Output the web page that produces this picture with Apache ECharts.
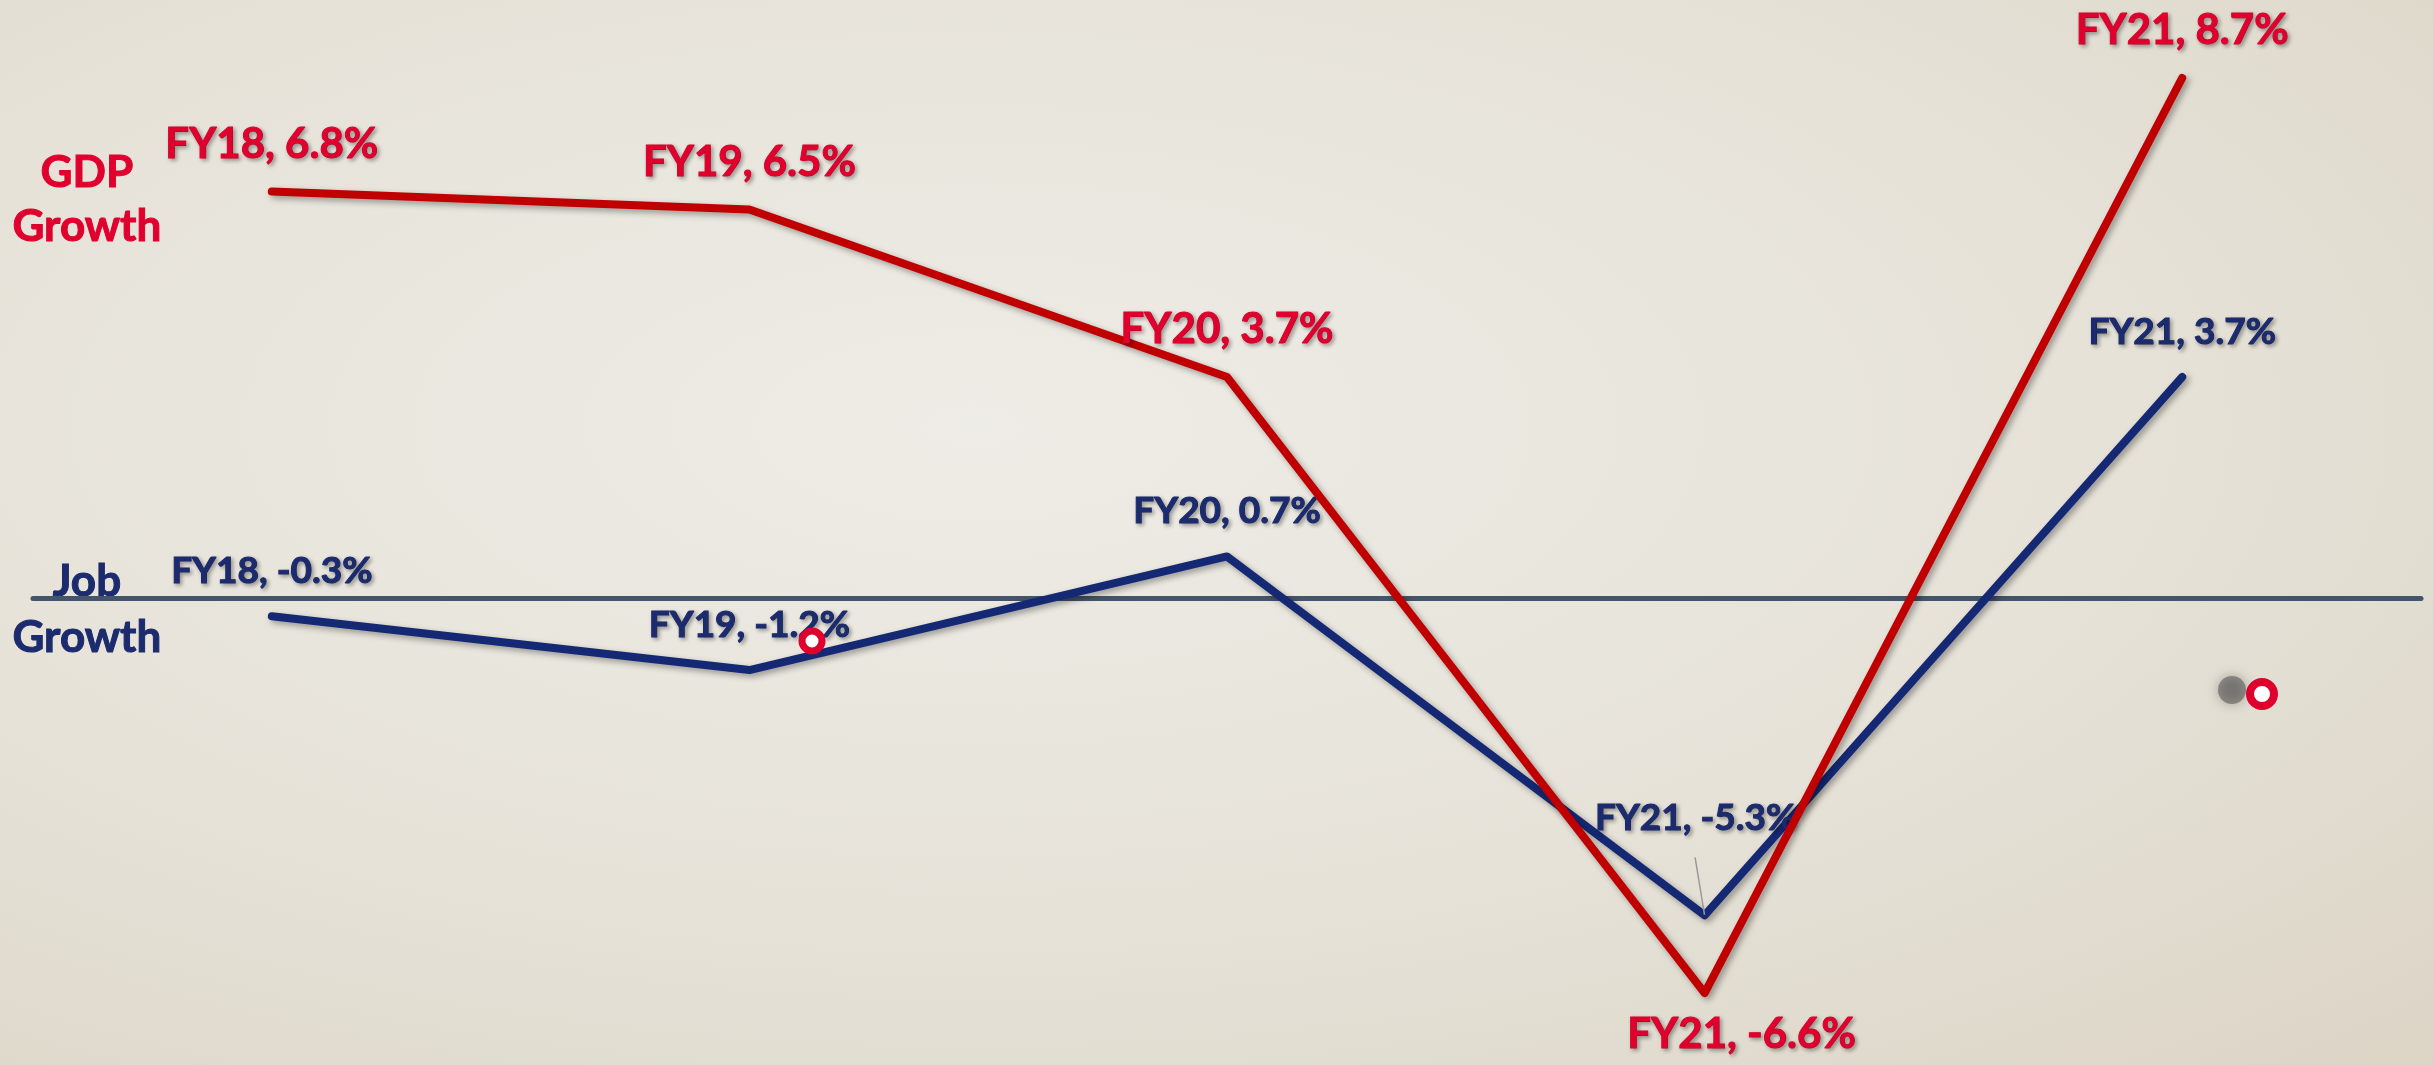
<!DOCTYPE html>
<html>
<head>
<meta charset="utf-8">
<script src="https://cdn.jsdelivr.net/npm/echarts@6/dist/echarts.min.js"></script>
<style>
  html, body { margin: 0; padding: 0; }
  #ch-main {
    width: 2433px; height: 1065px;
    background: radial-gradient(ellipse at 40% 40%, #eeece6 0%, #e6e2d8 55%, #dcd5c6 100%);
  }
</style>
</head>
<body>
<div id="ch-main"></div>
<script>
let categories = ['FY18', 'FY19', 'FY20', 'FY21', 'FY21']
let gdpGrowth = [6.8, 6.5, 3.7, -6.6, 8.7]
let jobGrowth = [-0.3, -1.2, 0.7, -5.3, 3.7]

let red = '#c00000'
let redText = '#e0002d'
let navy = '#142873'
let navyText = '#1b2b6e'

let main = echarts.init(document.getElementById('ch-main'))

let textShadow = { textShadowColor: 'rgba(0,0,0,0.35)', textShadowBlur: 4, textShadowOffsetX: 2, textShadowOffsetY: 2 }

function labelText(p) {
    return p.name + ', ' + p.value + '%'
}

// per-point label tweaks
let gdpData = gdpGrowth.map(function (v, i) {
    let item = { value: v }
    if (i === 3) item.label = { position: 'bottom', distance: 19, offset: [37, 0] }
    return item
})
let jobData = jobGrowth.map(function (v, i) {
    let item = { value: v }
    if (i === 3) item.label = { distance: 77, offset: [-9, 0] }
    if (i === 3) item.labelLine = { show: true, lineStyle: { color: '#9a9a9a', width: 1.5 } }
    return item
})

let lineShadow = { shadowColor: 'rgba(0,0,0,0.35)', shadowBlur: 6, shadowOffsetX: 3, shadowOffsetY: 3 }

let option = {
    animation: false,
    grid: { left: 33, right: 12, top: 60, bottom: 48 },
    xAxis: {
        type: 'category',
        data: categories,
        boundaryGap: true,
        axisLine: { show: true, onZero: true, lineStyle: { color: '#44546a', width: 5 } },
        axisTick: { show: false },
        axisLabel: { show: false }
    },
    yAxis: {
        type: 'value',
        min: -7,
        max: 9,
        show: false,
        splitLine: { show: false }
    },
    graphic: [
        {
            type: 'text', left: 12, top: 146,
            style: {
                text: 'GDP\nGrowth', fill: redText, font: 'bold 44px Lato',
                stroke: redText, lineWidth: 1,
                textAlign: 'center', lineHeight: 54,
                shadowColor: 'rgba(0,0,0,0.35)', shadowBlur: 4, shadowOffsetX: 2, shadowOffsetY: 2
            }
        },
        {
            type: 'text', left: 12, top: 554,
            style: {
                text: 'Job\nGrowth', fill: navyText, font: 'bold 44px Lato',
                stroke: navyText, lineWidth: 1,
                textAlign: 'center', lineHeight: 56,
                shadowColor: 'rgba(0,0,0,0.35)', shadowBlur: 4, shadowOffsetX: 2, shadowOffsetY: 2
            }
        },
        // stray pointer marks seen on the slide
        { type: 'circle', shape: { cx: 2232, cy: 690, r: 14 }, style: { fill: 'rgba(70,70,70,0.5)', shadowBlur: 12, shadowColor: 'rgba(70,70,70,0.8)' }, z: 10 },
        { type: 'circle', shape: { cx: 2262, cy: 694, r: 12 }, style: { fill: '#fff', stroke: '#e0002d', lineWidth: 8 }, z: 11 },
        { type: 'circle', shape: { cx: 812, cy: 641, r: 10 }, style: { fill: '#fff', stroke: '#e0002d', lineWidth: 7 }, z: 11 }
    ],
    series: [
        {
            name: 'GDP Growth',
            type: 'line',
            data: gdpData,
            symbol: 'circle',
            symbolSize: 1,
            itemStyle: { color: red },
            lineStyle: Object.assign({ color: red, width: 8, cap: 'round', join: 'round' }, lineShadow),
            label: Object.assign({
                show: true, position: 'top', distance: 25,
                formatter: labelText, color: redText,
                textBorderColor: redText, textBorderWidth: 1,
                fontFamily: 'Lato', fontWeight: 'bold', fontSize: 42, lineHeight: 44
            }, textShadow),
            z: 3
        },
        {
            name: 'Job Growth',
            type: 'line',
            data: jobData,
            symbol: 'circle',
            symbolSize: 1,
            itemStyle: { color: navy },
            lineStyle: Object.assign({ color: navy, width: 8, cap: 'round', join: 'round' }, lineShadow),
            label: Object.assign({
                show: true, position: 'top', distance: 25,
                formatter: labelText, color: navyText,
                textBorderColor: navyText, textBorderWidth: 1,
                fontFamily: 'Lato', fontWeight: 'bold', fontSize: 37, lineHeight: 39
            }, textShadow),
            z: 2
        }
    ]
}

main.setOption(option)
</script>
</body>
</html>
